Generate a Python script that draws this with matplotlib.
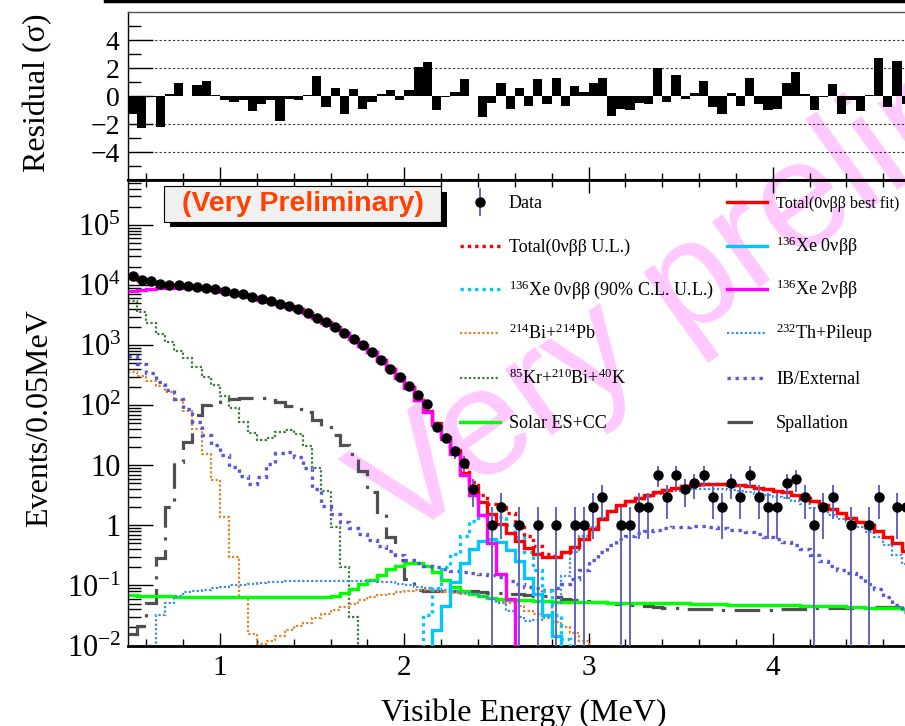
import numpy as np
import matplotlib
matplotlib.use('Agg')
import matplotlib.pyplot as plt
from matplotlib.lines import Line2D
from matplotlib.patches import Rectangle
from matplotlib.ticker import FixedLocator, NullFormatter

plt.rcParams['font.family'] = ['Liberation Serif', 'DejaVu Serif']
plt.rcParams['mathtext.fontset'] = 'custom'
plt.rcParams['mathtext.rm'] = 'Liberation Serif'
plt.rcParams['mathtext.it'] = 'Liberation Serif:italic'
plt.rcParams['mathtext.bf'] = 'Liberation Serif:bold'

# binning: 0.05 MeV bins starting at 0.5 MeV
bin_lo = 0.5
bin_w = 0.05
n_bins = 85

# data counts per bin
data_counts = [14100, 12000, 11500, 10500, 10200, 10000, 9550, 9330, 8900, 8500,
               7950, 7400, 7080, 6450, 5900, 5370, 4900, 4470, 3980, 3470,
               2880, 2400, 2000, 1620, 1290, 1000, 776, 562, 407, 295,
               209, 148, 105, 44, 29, 17, 11, 4, 0, 1,
               2, 0, 1, 0, 1, 0, 1, 0, 1, 1,
               2, 3, 0, 1, 1, 2, 2, 7, 3, 7,
               4, 5, 7, 3, 2, 5, 3, 7, 3, 2,
               2, 5, 6, 3, 1, 2, 3, 0, 1, 0,
               1, 3, 0, 2, 2]

# residuals (sigma)
residual = [-1.3, -2.3, -0.05, -2.2, 0.15, 0.93, 0.0, 0.8, 1.07, 0.05,
            -0.3, -0.4, -0.3, -1.1, -0.6, -0.3, -1.8, -0.2, -0.25, 0.1,
            1.4, -0.8, 0.6, -1.3, 0.5, -0.9, -0.4, 0.15, 0.4, -0.25,
            0.4, 2.1, 2.4, -1.0, -0.1, 0.3, 1.2, 0.0, -1.5, -0.5,
            0.9, -0.9, 0.6, -0.7, 1.2, -0.6, 1.3, -0.7, 0.7, 0.3,
            0.9, 1.3, -1.4, -0.9, -1.0, -0.5, -0.6, 2.0, -0.4, 1.5,
            -0.2, 0.25, 1.1, -0.8, -1.3, 0.2, -0.7, 1.3, -0.6, -1.0,
            -0.9, 0.9, 1.7, 0.15, -1.0, -0.1, 0.85, -1.3, -0.3, -1.1,
            0.1, 2.7, -0.75, 2.5, -0.6]

# model components, log10(events / 0.05 MeV); each starts at the given bin index
total_best_log = [4.15, 4.08, 4.06, 4.02, 4.01, 4.00, 3.98, 3.97, 3.95, 3.93,
                  3.90, 3.87, 3.85, 3.81, 3.77, 3.73, 3.69, 3.65, 3.60, 3.54,
                  3.46, 3.38, 3.30, 3.21, 3.11, 3.00, 2.89, 2.75, 2.61, 2.47,
                  2.31, 2.09, 1.91, 1.70, 1.47, 1.21, 0.88, 0.62, 0.39, 0.19,
                  0.03, -0.12, -0.26, -0.38, -0.48, -0.53, -0.52, -0.45, -0.36, -0.22,
                  -0.06, 0.10, 0.24, 0.34, 0.40, 0.46, 0.51, 0.55, 0.59, 0.62,
                  0.65, 0.68, 0.69, 0.69, 0.69, 0.68, 0.67, 0.65, 0.63, 0.60,
                  0.58, 0.55, 0.51, 0.46, 0.41, 0.34, 0.28, 0.21, 0.13, 0.06,
                  0.00, -0.09, -0.19, -0.30, -0.42]
total_ul_start = 33
total_ul_log = [1.71, 1.49, 1.25, 0.97, 0.72, 0.50, 0.36, 0.30, 0.20, 0.04,
                -0.17, -0.35, -0.47, -0.51, -0.45]

xe0v_start = 32
xe0v_log = [-2.3, -1.75, -1.35, -0.95, -0.62, -0.40, -0.26, -0.23, -0.27, -0.41,
            -0.60, -0.87, -1.15, -1.50, -1.85, -2.5]
xe0v_ul_start = 31
xe0v_ul_log = [-2.5, -1.5, -1.05, -0.70, -0.48, -0.18, 0.07, 0.18, 0.19, 0.14,
               0.00, -0.20, -0.45, -0.75, -1.10, -1.50, -1.90, -2.5]

xe2v_start = 0
xe2v_log = [3.90, 3.92, 3.94, 3.95, 3.96, 3.96, 3.96, 3.95, 3.94, 3.92,
            3.89, 3.86, 3.84, 3.80, 3.76, 3.72, 3.68, 3.64, 3.59, 3.53,
            3.45, 3.37, 3.29, 3.20, 3.10, 2.99, 2.88, 2.74, 2.60, 2.45,
            2.29, 2.08, 1.89, 1.67, 1.43, 1.18, 0.84, 0.50, 0.18, -0.29,
            -0.81, -1.22]

bi214_start = 0
bi214_log = [2.56, 2.48, 2.40, 2.32, 2.22, 2.08, 1.90, 1.60, 1.19, 0.75,
             0.14, -0.53, -1.19, -1.81, -1.97, -1.92, -1.84, -1.75, -1.68, -1.62,
             -1.55, -1.48, -1.41, -1.36, -1.31, -1.25, -1.20, -1.16, -1.14, -1.11,
             -1.09, -1.08, -1.08, -1.09, -1.11, -1.13, -1.14, -1.16, -1.18, -1.22,
             -1.26, -1.30, -1.35, -1.42, -1.48, -1.54, -1.61, -1.70, -1.80, -1.93,
             -2.2]

th232_start = 2
th232_log = [-2.0, -1.5, -1.3, -1.17, -1.11, -1.09, -1.07, -1.05,
             -1.03, -1.00, -0.99, -0.97, -0.96, -0.95, -0.94, -0.93, -0.93, -0.93,
             -0.93, -0.93, -0.93, -0.93, -0.93, -0.93, -0.93, -0.94, -0.95, -0.97,
             -0.99, -1.02, -1.04, -1.06, -1.08, -1.10, -1.12, -1.14, -1.17, -1.22,
             -1.30, -1.42, -1.52, -1.60, -1.58, -1.52, -1.30, -0.85, -0.45, -0.18,
             -0.02, 0.12, 0.24, 0.32, 0.39, 0.44, 0.48, 0.52, 0.55, 0.57,
             0.59, 0.60, 0.61, 0.61, 0.60, 0.59, 0.57, 0.55, 0.53, 0.50,
             0.47, 0.45, 0.41, 0.35, 0.29, 0.24, 0.18, 0.11, 0.05, -0.03,
             -0.11, -0.20, -0.33, -0.50, -0.65]

kr85_start = 0
kr85_log = [3.74, 3.55, 3.37, 3.18, 3.05, 2.90, 2.78, 2.64, 2.47, 2.33,
            2.16, 1.96, 1.72, 1.53, 1.42, 1.46, 1.55, 1.58, 1.52, 1.32,
            0.95, 0.58, -0.03, -0.69, -1.53, -2.5]

ib_start = 0
ib_log = [2.82, 2.69, 2.53, 2.39, 2.25, 2.11, 1.94, 1.72, 1.50, 1.33,
          1.17, 0.98, 0.82, 0.69, 0.80, 1.03, 1.20, 1.22, 1.14, 0.96,
          0.60, 0.33, 0.19, 0.06, -0.04, -0.14, -0.25, -0.35, -0.43, -0.50,
          -0.58, -0.63, -0.67, -0.70, -0.73, -0.76, -0.78, -0.80, -0.81, -0.83,
          -0.86, -0.92, -0.97, -1.02, -1.05, -1.07, -1.04, -0.98, -0.90, -0.75,
          -0.58, -0.44, -0.32, -0.22, -0.17, -0.12, -0.09, -0.07, -0.05, -0.03,
          -0.02, -0.01, -0.01, -0.02, -0.05, -0.07, -0.08, -0.11, -0.14, -0.19,
          -0.22, -0.27, -0.32, -0.39, -0.50, -0.60, -0.67, -0.74, -0.80, -0.86,
          -0.97, -1.06, -1.19, -1.33, -1.45]

solar_start = 0
solar_log = [-1.16, -1.17, -1.17, -1.18, -1.18, -1.19, -1.19, -1.19, -1.19, -1.19,
             -1.19, -1.19, -1.19, -1.19, -1.19, -1.19, -1.19, -1.19, -1.19, -1.19,
             -1.19, -1.19, -1.17, -1.12, -1.06, -0.98, -0.91, -0.82, -0.73, -0.67,
             -0.63, -0.63, -0.67, -0.78, -0.91, -1.03, -1.09, -1.14, -1.18, -1.21,
             -1.23, -1.24, -1.25, -1.25, -1.26, -1.26, -1.27, -1.27, -1.27, -1.28,
             -1.28, -1.28, -1.29, -1.29, -1.29, -1.29, -1.30, -1.30, -1.30, -1.30,
             -1.30, -1.31, -1.31, -1.31, -1.31, -1.32, -1.32, -1.32, -1.32, -1.33,
             -1.33, -1.33, -1.33, -1.34, -1.34, -1.34, -1.35, -1.35, -1.36, -1.36,
             -1.37, -1.37, -1.38, -1.38, -1.39]

spall_start = 0
spall_log = [-1.81, -1.67, -1.30, -0.55, 0.30, 1.05, 1.38, 1.83, 2.00, 2.05,
             2.08, 2.10, 2.12, 2.12, 2.12, 2.09, 2.05, 1.99, 1.94, 1.88,
             1.76, 1.64, 1.50, 1.33, 1.18, 0.90, 0.55, 0.22, -0.20, -0.58,
             -0.90, -1.08, -1.10, -1.10, -1.10, -1.10, -1.10, -1.10, -1.11, -1.12,
             -1.13, -1.14, -1.15, -1.16, -1.17, -1.18, -1.20, -1.22, -1.24, -1.26,
             -1.27, -1.28, -1.30, -1.31, -1.33, -1.34, -1.35, -1.36, -1.37, -1.38,
             -1.39, -1.39, -1.40, -1.40, -1.41, -1.41, -1.41, -1.41, -1.41, -1.41,
             -1.40, -1.40, -1.39, -1.39, -1.38, -1.38, -1.38, -1.37, -1.37, -1.37,
             -1.36, -1.36, -1.36, -1.36, -1.36]

y_ticks = [1e-2, 1e-1, 1, 10, 1e2, 1e3, 1e4, 1e5]
y_ticklabels = [r'$10^{-2}$', r'$10^{-1}$', '1', '10', r'$10^{2}$', r'$10^{3}$', r'$10^{4}$', r'$10^{5}$']
x_ticks = [1, 2, 3, 4]


def expand(start, vals, off=-4.0):
    # bins outside the listed range are empty (drawn down below the axis)
    out = np.full(n_bins, off)
    out[start:start + len(vals)] = vals
    return 10.0 ** out


edges = bin_lo + bin_w * np.arange(n_bins + 1)
centers = edges[:-1] + bin_w / 2

total_best = expand(0, total_best_log)
total_ul = total_best.copy()
total_ul[total_ul_start:total_ul_start + len(total_ul_log)] = 10.0 ** np.array(total_ul_log)

styles = {
    'total_best': dict(color='#ff0000', lw=2.4),
    'total_ul': dict(color='#ff0000', lw=2.4, ls=(0, (1, 1.2))),
    'xe0v_ul': dict(color='#00c8ff', lw=2.4, ls=(0, (1, 1.2))),
    'xe0v': dict(color='#00c8ff', lw=2.4),
    'xe2v': dict(color='#ff00ff', lw=2.4),
    'bi214': dict(color='#e0822a', lw=1.6, ls=(0, (1, 1))),
    'th232': dict(color='#3c8ce6', lw=1.6, ls=(0, (1, 1))),
    'kr85': dict(color='#3d7a3d', lw=1.6, ls=(0, (1, 1))),
    'ib': dict(color='#5555dd', lw=2.4, ls=(0, (1, 1.4))),
    'solar': dict(color='#00ff00', lw=2.4),
    'spall': dict(color='#505050', lw=2.3, ls=(0, (8, 3, 1, 3))),
}

W, H = 905, 726


def fx(px):
    return px / W


def fy(py):
    return 1 - py / H


fig = plt.figure(figsize=(W / 100, H / 100), dpi=100)
px_per_mev = 184.2
x_max = 4.8
ax_w = (x_max - bin_lo) * px_per_mev / W
ax_res = fig.add_axes([fx(128), fy(180), ax_w, (180 - 12) / H])
ax = fig.add_axes([fx(128), fy(645.5), ax_w, (645.5 - 180) / H])
for a in (ax, ax_res):
    a.set_facecolor('none')

# ---- residual panel ----
ax_res.stairs(residual, edges, baseline=0, fill=True, color='black', lw=0)
for v in (-4, -2, 2, 4):
    ax_res.axhline(v, color='#333333', ls=(0, (2, 2)), lw=0.8, zorder=0)
ax_res.set_xlim(bin_lo, x_max)
ax_res.set_ylim(-6, 6)
ax_res.set_yticks([-4, -2, 0, 2, 4])
ax_res.yaxis.set_minor_locator(FixedLocator([-5, -3, -1, 1, 3, 5]))
ax_res.set_xticks(x_ticks)
ax_res.xaxis.set_minor_locator(FixedLocator(np.arange(0.6, 4.8, 0.2)))
ax_res.tick_params(axis='x', which='both', direction='in', bottom=True, top=False, labelbottom=False)
ax_res.tick_params(axis='x', which='major', length=9.5, width=1)
ax_res.tick_params(axis='x', which='minor', length=4.7, width=1)
ax_res.tick_params(axis='y', which='major', direction='in', length=18, width=1, labelsize=20, pad=6)
ax_res.tick_params(axis='y', which='minor', direction='in', length=9, width=1)
ax_res.spines['right'].set_visible(False)
ax_res.spines['top'].set_color('#555555')
ax_res.spines['top'].set_linewidth(1)
ax_res.spines['left'].set_linewidth(1)
ax_res.spines['bottom'].set_linewidth(1.5)

# ---- main spectrum ----
ax.set_yscale('log')
ax.stairs(expand(spall_start, spall_log), edges, baseline=None, zorder=2, **styles['spall'])
ax.stairs(expand(solar_start, solar_log), edges, baseline=None, zorder=2.1, **styles['solar'])
ax.stairs(expand(kr85_start, kr85_log), edges, baseline=None, zorder=2, **styles['kr85'])
ax.stairs(expand(bi214_start, bi214_log), edges, baseline=None, zorder=2, **styles['bi214'])
ax.stairs(expand(th232_start, th232_log), edges, baseline=None, zorder=2.2, **styles['th232'])
ax.stairs(expand(ib_start, ib_log), edges, baseline=None, zorder=2.3, **styles['ib'])
ax.stairs(expand(xe0v_ul_start, xe0v_ul_log), edges, baseline=None, zorder=3, **styles['xe0v_ul'])
ax.stairs(expand(xe0v_start, xe0v_log), edges, baseline=None, zorder=3.1, **styles['xe0v'])
ax.stairs(total_ul, edges, baseline=None, zorder=3.5, **styles['total_ul'])
ax.stairs(total_best, edges, baseline=None, zorder=4, **styles['total_best'])
ax.stairs(expand(xe2v_start, xe2v_log), edges, baseline=None, zorder=4.5, **styles['xe2v'])

counts = np.array(data_counts, dtype=float)
has = counts > 0
err = np.sqrt(counts[has])
lo = np.minimum(err, counts[has] - 1e-4)
ax.errorbar(centers[has], counts[has], yerr=[lo, err], fmt='o', ms=6.5,
            mfc='black', mec='black', ecolor='#6464c8', elinewidth=1.4, capsize=0, zorder=6)

ax.set_xlim(bin_lo, x_max)
ax.set_ylim(1e-2, 10 ** 5.75)
ax.yaxis.set_major_locator(FixedLocator(y_ticks))
ax.set_yticklabels(y_ticklabels)
minor_y = [m * 10.0 ** k for k in range(-2, 6) for m in range(2, 10)]
ax.yaxis.set_minor_locator(FixedLocator(minor_y))
ax.yaxis.set_minor_formatter(NullFormatter())
ax.set_xticks(x_ticks)
ax.set_xticklabels([str(t) for t in x_ticks])
ax.xaxis.set_minor_locator(FixedLocator(np.arange(0.6, 4.8, 0.2)))
ax.tick_params(axis='x', which='both', direction='in', bottom=True, top=True)
ax.tick_params(axis='x', which='major', length=9.5, width=1, labelsize=21, pad=7)
ax.tick_params(axis='x', which='minor', length=4.7, width=1)
ax.tick_params(axis='y', which='major', direction='in', length=18, width=1, labelsize=22, pad=5)
ax.tick_params(axis='y', which='minor', direction='in', length=9, width=1)
ax.spines['right'].set_visible(False)
ax.spines['top'].set_linewidth(2)
ax.spines['bottom'].set_linewidth(2)
ax.spines['left'].set_linewidth(1)

fig.text(fx(524), fy(713), 'Visible Energy (MeV)', ha='center', va='center', fontsize=23)
fig.text(fx(40), fy(418), 'Events/0.05MeV', ha='center', va='center', rotation=90, fontsize=23)
fig.text(fx(38), fy(93), 'Residual (σ)', ha='center', va='center', rotation=90, fontsize=23)

# line at the very top of the picture
fig.add_artist(Line2D([fx(105), 1.0], [fy(1), fy(1)], transform=fig.transFigure, color='black', lw=2.5))

# watermark
fig.text(fx(398), fy(545), 'Very preliminary', rotation=35.5, rotation_mode='anchor',
         ha='left', va='baseline', fontsize=110, color='#ffc8ff', family='Liberation Sans', zorder=-5)

# "(Very Preliminary)" box with shadow
fig.add_artist(Rectangle((fx(170), fy(227)), (447 - 170) / W, (227 - 192) / H,
                         transform=fig.transFigure, facecolor='black', edgecolor='none', zorder=5))
fig.add_artist(Rectangle((fx(164), fy(222)), (441 - 164) / W, (222 - 186) / H,
                         transform=fig.transFigure, facecolor='#f0f0f0', edgecolor='black', lw=0.8, zorder=5.1))
fig.text(fx(302.5), fy(204), '(Very Preliminary)', ha='center', va='center', fontsize=20.5,
         fontweight='bold', color='#ff4000', family='Liberation Sans', zorder=5.2)

# legend (two columns)
legend_rows = [202, 246, 289, 333, 378, 422]
legend_entries = [
    (0, 0, 'data', 'Data'),
    (1, 0, 'total_best', 'Total(0νββ best fit)'),
    (0, 1, 'total_ul', 'Total(0νββ U.L.)'),
    (1, 1, 'xe0v', r'$^{136}$Xe 0νββ'),
    (0, 2, 'xe0v_ul', r'$^{136}$Xe 0νββ (90% C.L. U.L.)'),
    (1, 2, 'xe2v', r'$^{136}$Xe 2νββ'),
    (0, 3, 'bi214', r'$^{214}$Bi+$^{214}$Pb'),
    (1, 3, 'th232', r'$^{232}$Th+Pileup'),
    (0, 4, 'kr85', r'$^{85}$Kr+$^{210}$Bi+$^{40}$K'),
    (1, 4, 'ib', 'IB/External'),
    (0, 5, 'solar', 'Solar ES+CC'),
    (1, 5, 'spall', 'Spallation'),
]
col_line = [(460, 500), (727, 767)]
col_text = [509, 776]
for col, row, key, label in legend_entries:
    yy = legend_rows[row]
    x0, x1 = col_line[col]
    if key == 'data':
        xm = (x0 + x1) / 2
        fig.add_artist(Line2D([fx(xm), fx(xm)], [fy(189), fy(215)], transform=fig.transFigure,
                              color='#6464c8', lw=1.4, zorder=6))
        fig.add_artist(Line2D([fx(xm)], [fy(yy)], transform=fig.transFigure, marker='o', ms=6.5,
                              color='black', ls='none', zorder=6.1))
    else:
        st = dict(styles[key])
        if key == 'spall':
            x1 = x0 + 28
        fig.add_artist(Line2D([fx(x0), fx(x1)], [fy(yy), fy(yy)], transform=fig.transFigure,
                              color=st['color'], lw=st['lw'], ls=st.get('ls', '-'), zorder=6))
    # the right-column first entry is long: keep it inside the picture
    fs = 11.6 if key == 'total_best' else 13
    fig.text(fx(col_text[col]), fy(yy + 6), label, ha='left', va='baseline', fontsize=fs, zorder=6)

fig.savefig('out.png', dpi=100)
